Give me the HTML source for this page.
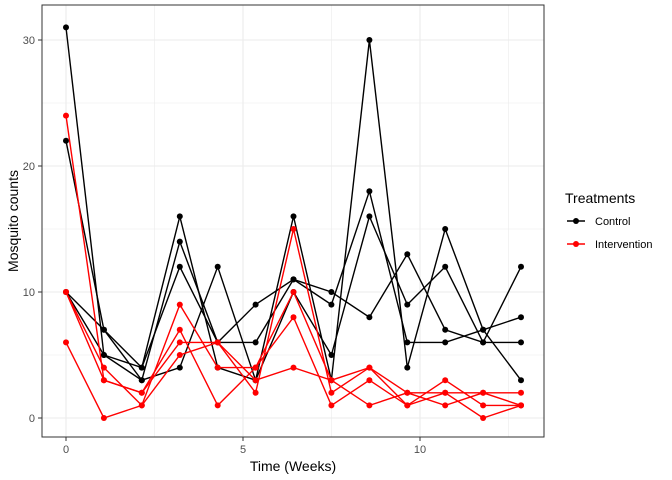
<!DOCTYPE html>
<html><head><meta charset="utf-8"><style>body{margin:0;background:#fff}svg{display:block;font-family:"Liberation Sans",sans-serif}</style></head><body>
<svg width="672" height="480" xmlns="http://www.w3.org/2000/svg">
<defs>
<marker id="mb" markerUnits="userSpaceOnUse" markerWidth="8" markerHeight="8" refX="4" refY="4"><circle cx="4" cy="4" r="3" fill="#000"/></marker>
<marker id="mr" markerUnits="userSpaceOnUse" markerWidth="8" markerHeight="8" refX="4" refY="4"><circle cx="4" cy="4" r="3" fill="red"/></marker>
</defs>
<g stroke="#ebebeb" stroke-width="0.6">
<line x1="42" x2="544" y1="355" y2="355"/><line x1="42" x2="544" y1="229" y2="229"/><line x1="42" x2="544" y1="103" y2="103"/>
<line y1="5" y2="437" x1="154.5" x2="154.5"/><line y1="5" y2="437" x1="331.5" x2="331.5"/><line y1="5" y2="437" x1="508.5" x2="508.5"/>
</g>
<g stroke="#ebebeb" stroke-width="1.1">
<line x1="42" x2="544" y1="418" y2="418"/><line x1="42" x2="544" y1="292" y2="292"/><line x1="42" x2="544" y1="166" y2="166"/><line x1="42" x2="544" y1="40" y2="40"/>
<line y1="5" y2="437" x1="66" x2="66"/><line y1="5" y2="437" x1="243" x2="243"/><line y1="5" y2="437" x1="420" x2="420"/>
</g>
<g fill="none" stroke="#000" stroke-width="1.4" marker-start="url(#mb)" marker-mid="url(#mb)" marker-end="url(#mb)">
<polyline points="66,27.4 103.9,355 141.8,367.6 179.8,216.4 217.7,367.6 255.6,380.2 293.5,216.4 331.4,380.2 369.4,40 407.3,367.6 445.2,229 483.1,329.8 521,380.2"/>
<polyline points="66,140.8 103.9,329.8 141.8,380.2 179.8,241.6 217.7,342.4 255.6,342.4 293.5,279.4 331.4,304.6 369.4,191.2 407.3,342.4 445.2,342.4 483.1,329.8 521,317.2"/>
<polyline points="66,292 103.9,355 141.8,380.2 179.8,367.6 217.7,266.8 255.6,380.2 293.5,292 331.4,355 369.4,216.4 407.3,304.6 445.2,266.8 483.1,342.4 521,342.4"/>
<polyline points="66,292 103.9,329.8 141.8,367.6 179.8,266.8 217.7,342.4 255.6,304.6 293.5,279.4 331.4,292 369.4,317.2 407.3,254.2 445.2,329.8 483.1,342.4 521,266.8"/>
</g>
<g fill="none" stroke="red" stroke-width="1.4" marker-start="url(#mr)" marker-mid="url(#mr)" marker-end="url(#mr)">
<polyline points="66,115.6 103.9,380.2 141.8,392.8 179.8,342.4 217.7,342.4 255.6,392.8 293.5,229 331.4,392.8 369.4,367.6 407.3,405.4 445.2,380.2 483.1,405.4 521,405.4"/>
<polyline points="66,292 103.9,367.6 141.8,405.4 179.8,304.6 217.7,367.6 255.6,367.6 293.5,292 331.4,380.2 369.4,367.6 407.3,392.8 445.2,392.8 483.1,392.8 521,392.8"/>
<polyline points="66,292 103.9,380.2 141.8,392.8 179.8,329.8 217.7,405.4 255.6,367.6 293.5,317.2 331.4,405.4 369.4,380.2 407.3,405.4 445.2,392.8 483.1,418 521,405.4"/>
<polyline points="66,342.4 103.9,418 141.8,405.4 179.8,355 217.7,342.4 255.6,380.2 293.5,367.6 331.4,380.2 369.4,405.4 407.3,392.8 445.2,405.4 483.1,392.8 521,405.4"/>
</g>
<rect x="42" y="5" width="502" height="432" fill="none" stroke="#333" stroke-width="1"/>
<g stroke="#333"><line x1="38" x2="42" y1="418" y2="418"/><line x1="38" x2="42" y1="292" y2="292"/><line x1="38" x2="42" y1="166" y2="166"/><line x1="38" x2="42" y1="40" y2="40"/>
<line x1="66" x2="66" y1="437" y2="441"/><line x1="243" x2="243" y1="437" y2="441"/><line x1="420" x2="420" y1="437" y2="441"/></g>
<g font-size="11" fill="#4d4d4d" text-anchor="end"><text x="35" y="422">0</text><text x="35" y="296">10</text><text x="35" y="170">20</text><text x="35" y="44">30</text></g>
<g font-size="11" fill="#4d4d4d" text-anchor="middle"><text x="66" y="453">0</text><text x="243" y="453">5</text><text x="420" y="453">10</text></g>
<text x="293" y="471" font-size="14" text-anchor="middle">Time (Weeks)</text>
<text transform="translate(18,221) rotate(-90)" font-size="14" text-anchor="middle">Mosquito counts</text>
<text x="565" y="203" font-size="14">Treatments</text>
<line x1="567" x2="585" y1="221" y2="221" stroke="#000" stroke-width="1.4"/><circle cx="576" cy="221" r="3" fill="#000"/>
<text x="595" y="225" font-size="11">Control</text>
<line x1="567" x2="585" y1="244" y2="244" stroke="red" stroke-width="1.4"/><circle cx="576" cy="244" r="3" fill="red"/>
<text x="595" y="248" font-size="11">Intervention</text>
</svg>
</body></html>
